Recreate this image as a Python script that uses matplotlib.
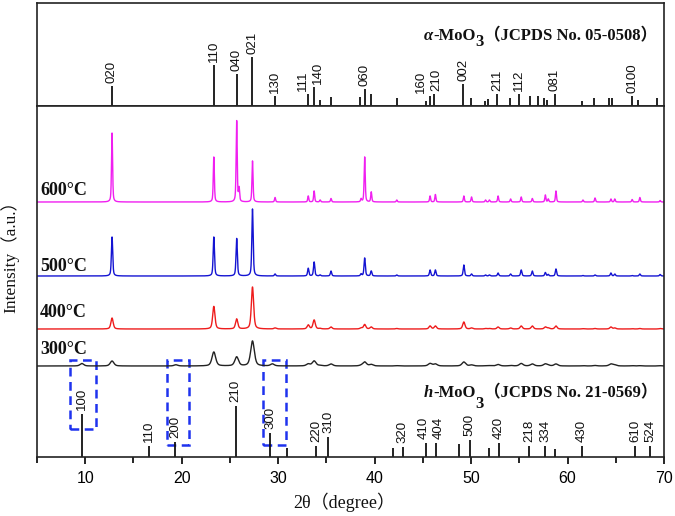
import numpy as np
import matplotlib
matplotlib.use("Agg")
import matplotlib.pyplot as plt
from matplotlib.patches import Rectangle
from matplotlib.ticker import MultipleLocator

# ---------------- data ----------------
# alpha-MoO3 reference sticks (JCPDS 05-0508)
alpha_pos = [12.76, 23.33, 25.70, 27.34, 29.68, 33.12, 33.73, 34.35, 35.48, 38.45,
             38.97, 39.65, 42.27, 45.30, 45.70, 46.20, 49.20, 50.00, 51.40, 51.80,
             52.70, 54.00, 55.00, 56.10, 56.90, 57.60, 57.90, 58.70, 61.50, 62.70,
             64.30, 64.60, 66.70, 67.30, 69.30]
alpha_int = [20, 41, 32, 49, 10, 12, 19, 6, 9.5, 9,
             17.5, 12, 8, 5, 10, 12, 22, 8, 5, 7,
             12, 8, 12, 10, 10, 8, 6, 12, 5, 8,
             8, 8, 10, 6, 8]
alpha_hkl = ['020', '110', '040', '021', '130', '111', '140', '', '', '',
             '060', '', '', '', '160', '210', '002', '', '', '',
             '211', '', '112', '', '', '', '', '081', '', '',
             '', '', '0100', '', '']

# h-MoO3 reference sticks (JCPDS 21-0569)
h_pos = [9.65, 16.65, 19.35, 25.60, 29.20, 30.90, 33.95, 35.20, 41.90, 42.90,
         45.30, 46.40, 48.70, 49.85, 51.90, 52.90, 56.00, 57.70, 58.70, 61.50,
         67.00, 68.60]
h_int = [43, 11, 15, 51, 24, 9, 11, 20, 9, 10,
         14, 14, 13, 17, 9, 14, 11, 11, 8, 11,
         11, 11]
h_hkl = ['100', '110', '200', '210', '300', '', '220', '310', '', '320',
         '410', '404', '', '500', '', '420', '218', '334', '', '430',
         '610', '524']

# measured patterns: peak positions and peak intensities for each temperature
peak_pos = [9.65, 12.78, 19.40, 23.33, 25.70, 25.95, 27.34, 29.40, 29.68, 33.12,
            33.73, 34.35, 35.48, 38.60, 38.97, 39.65, 42.30, 45.75, 46.30, 49.25,
            50.05, 51.50, 51.90, 52.80, 54.10, 55.20, 56.35, 57.70, 58.00, 58.80,
            61.60, 62.85, 64.50, 64.90, 66.70, 67.50, 69.60]
int_600 = [0, 69, 0, 45, 81, 13, 41, 0, 4.5, 6,
           11, 2, 3.5, 3, 45, 10, 2, 6, 7.5, 6,
           5, 2, 2, 6, 3, 5, 3.5, 7, 3, 11,
           2, 4, 3, 3, 2.5, 4.5, 1.5]
int_500 = [0, 39, 0, 39, 37.5, 0, 67, 0, 2, 7.7,
           14, 1, 5, 2, 18, 5, 1, 6, 6, 11,
           2, 1, 1, 3, 2, 6, 5, 3.5, 1.5, 7,
           0.5, 1, 3, 2, 0.5, 2, 1.5]
int_400 = [0, 11, 0, 22.6, 10, 0, 42, 0, 1, 4,
           9, 0.5, 2, 1, 4.5, 2, 0.5, 3, 3, 7,
           1, 0.5, 0.5, 2, 1, 3, 3, 2, 1, 3,
           0.3, 0.5, 2, 1, 0.3, 0.5, 0.5]
int_300 = [2.5, 5, 1.2, 14, 9, 0, 25, 2, 0, 2,
           5, 0.5, 2, 0.5, 4, 1.5, 0.3, 2.5, 2, 4,
           1, 0.3, 0.3, 1.5, 0.5, 2.5, 2, 2, 0.5, 2,
           0.3, 0.5, 2, 1, 0.3, 0.3, 0.3]
temps = ['600°C', '500°C', '400°C', '300°C']
fwhm = {'600°C': 0.13, '500°C': 0.16, '400°C': 0.28, '300°C': 0.45}
intensities = {'600°C': int_600, '500°C': int_500, '400°C': int_400, '300°C': int_300}

# dashed highlight regions (2theta ranges)
box_ranges = [(8.45, 11.15), (18.5, 20.8), (28.4, 30.85)]

# ---------------- layout / style ----------------
offsets = {'600°C': 255, '500°C': 181, '400°C': 128, '300°C': 91}
colors = {'600°C': '#f01ff0', '500°C': '#1414d2', '400°C': '#ee1c1c', '300°C': '#222222'}
label_base = {'600°C': 262, '500°C': 186, '400°C': 140, '300°C': 103}
alpha_nudge = {'111': -4, '140': 3, '160': -6, '210': 1.5}   # points
h_nudge = {'410': -1.5, '404': 1.5}
box_y = [(28, 97), (12, 97), (12, 97)]

W, H = 675, 516
fig = plt.figure(figsize=(W / 100, H / 100), dpi=100)
L, R = 37 / W, 664 / W
ax_top = fig.add_axes([L, 1 - 106 / H, R - L, 103 / H])
ax = fig.add_axes([L, 1 - 457 / H, R - L, 351 / H])

serif = ['Liberation Serif', 'Noto Sans CJK SC']
sans = 'Liberation Sans'

for a in (ax_top, ax):
    a.set_xlim(5, 70)
    for s in a.spines.values():
        s.set_linewidth(1.2)
        s.set_color('#222222')
ax_top.set_ylim(0, 103)
ax.set_ylim(0, 351)
ax_top.set_xticks([])
ax_top.set_yticks([])
ax.set_yticks([])
ax.xaxis.set_major_locator(MultipleLocator(10))
ax.xaxis.set_minor_locator(MultipleLocator(5))
ax.tick_params(axis='x', which='major', direction='out', length=5, width=1.2, pad=5,
               labelsize=11.5)
ax.tick_params(axis='x', which='minor', direction='out', length=4, width=1.2)
for lab in ax.get_xticklabels():
    lab.set_fontfamily(sans)

# alpha sticks
ax_top.vlines(alpha_pos, 0, alpha_int, color='#111111', lw=1.3)
for p, h, lab in zip(alpha_pos, alpha_int, alpha_hkl):
    if lab:
        ax_top.annotate(lab, xy=(p, h), xytext=(alpha_nudge.get(lab, 0), 2),
                        textcoords='offset points', rotation=90, ha='center',
                        va='bottom', fontsize=9.5, family=sans, color='#111111')

# h sticks
ax.vlines(h_pos, 0, h_int, color='#111111', lw=1.3)
for p, h, lab in zip(h_pos, h_int, h_hkl):
    if lab:
        ax.annotate(lab, xy=(p, h), xytext=(h_nudge.get(lab, 0), 3),
                    textcoords='offset points', rotation=90, ha='center',
                    va='bottom', fontsize=9.5, family=sans, color='#111111')

# patterns
x = np.linspace(5, 70, 6501)
pp = np.array(peak_pos)
for t in temps:
    w = fwhm[t]
    hh = np.array(intensities[t], dtype=float)
    d = (x[:, None] - pp[None, :]) / (w / 2)
    lor = 1 / (1 + d ** 2)
    gau = np.exp(-np.log(2) * d ** 2)
    y = ((0.5 * lor + 0.5 * gau) * hh[None, :]).sum(axis=1)
    ax.plot(x, y + offsets[t], color=colors[t], lw=1.0)
    ax.text(5.3, label_base[t], t, family=serif, fontweight='bold', fontsize=13,
            va='baseline', ha='left', color='#111111')

# dashed boxes
for (x0, x1), (y0, y1) in zip(box_ranges, box_y):
    ax.add_patch(Rectangle((x0, y0), x1 - x0, y1 - y0, fill=False,
                           edgecolor='#1f33ee', lw=1.8, ls=(0, (3.5, 2.2))))


def chain(a, x0, y0, pieces):
    prev = None
    for s, kw, dy in pieces:
        base = dict(va='baseline', ha='left', fontsize=12, fontweight='bold',
                    color='#111111')
        base.update(kw)
        if prev is None:
            prev = a.text(x0, y0, s, **base)
        else:
            prev = a.annotate(s, xy=(1, y0), xycoords=(prev, 'data'),
                              xytext=(0, dy), textcoords='offset points',
                              annotation_clip=False, **base)


chain(ax_top, 45.1, 66, [
    ('α', dict(family=serif, style='italic'), 0),
    ('-MoO', dict(family=serif), 0),
    ('3', dict(family=serif), -4),
    ('（JCPDS No. 05-0508）', dict(family=serif), 0),
])
chain(ax, 45.1, 60, [
    ('h', dict(family=serif, style='italic'), 0),
    ('-MoO', dict(family=serif), 0),
    ('3', dict(family=serif), -8),
    ('（JCPDS No. 21-0569）', dict(family=serif), 0),
])

fig.text(10 / W, 1 - 253 / H, 'Intensity（a.u.）', rotation=90, ha='center',
         va='center', family=serif, fontsize=12.5, color='#111111')
fig.text(344 / W, 1 - 502 / H, '2θ（degree）', ha='center', va='center',
         family=serif, fontsize=13, color='#111111')

fig.savefig('out.png', dpi=100)
